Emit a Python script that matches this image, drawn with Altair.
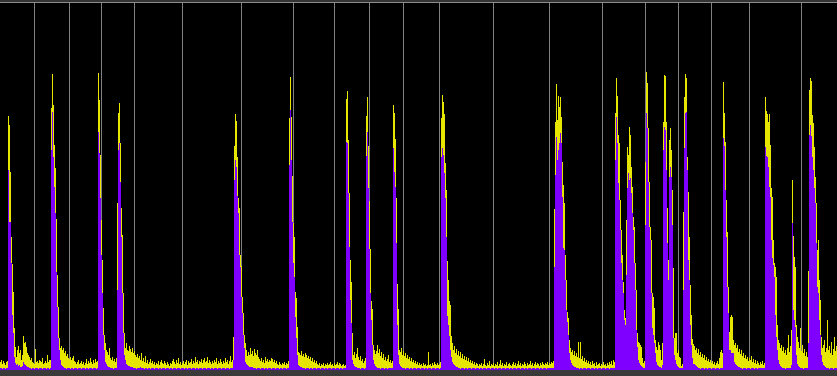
import altair as alt
import pandas as pd

# per-pixel-column heights (px above baseline)
yellow = [
    8, 10, 6, 9, 7, 5, 8, 9, 254, 245,
    198, 133, 106, 78, 42, 23, 13, 20, 24, 17,
    20, 10, 15, 34, 27, 28, 23, 17, 15, 13,
    10, 12, 8, 7, 6, 21, 8, 9, 7, 10,
    9, 8, 12, 6, 7, 9, 7, 15, 8, 10,
    10, 262, 296, 265, 225, 202, 151, 95, 63, 32,
    22, 24, 20, 22, 17, 19, 14, 16, 12, 11,
    13, 10, 12, 14, 9, 8, 6, 8, 10, 6,
    7, 9, 6, 8, 5, 7, 11, 6, 9, 7,
    12, 8, 6, 10, 7, 11, 8, 9, 297, 270,
    215, 150, 110, 62, 35, 27, 20, 18, 15, 22,
    12, 10, 13, 9, 11, 8, 12, 167, 257, 267,
    227, 162, 135, 77, 37, 22, 27, 20, 19, 24,
    21, 18, 22, 17, 19, 15, 13, 16, 12, 14,
    10, 17, 9, 12, 8, 14, 7, 10, 6, 8,
    11, 7, 9, 6, 8, 5, 7, 6, 9, 5,
    8, 10, 7, 6, 9, 7, 5, 8, 6, 4,
    7, 6, 9, 11, 8, 6, 10, 7, 12, 6,
    8, 5, 7, 9, 6, 8, 10, 5, 9, 7,
    8, 11, 6, 9, 7, 13, 8, 10, 6, 9,
    8, 11, 7, 10, 12, 8, 9, 13, 7, 10,
    8, 6, 9, 7, 10, 8, 12, 6, 9, 7,
    11, 8, 6, 9, 7, 12, 8, 10, 6, 9,
    14, 8, 10, 33, 224, 256, 249, 213, 172, 162,
    115, 104, 73, 57, 35, 27, 20, 14, 18, 15,
    22, 16, 19, 14, 21, 17, 15, 20, 13, 11,
    9, 12, 8, 10, 7, 13, 9, 11, 8, 10,
    9, 12, 11, 8, 10, 7, 9, 6, 5, 8,
    6, 5, 7, 6, 8, 5, 7, 6, 9, 252,
    293, 253, 194, 147, 133, 78, 72, 43, 18, 17,
    15, 19, 14, 16, 13, 17, 15, 12, 14, 11,
    13, 9, 12, 8, 10, 7, 9, 6, 5, 7,
    4, 6, 5, 7, 4, 6, 5, 7, 5, 6,
    8, 5, 6, 4, 7, 5, 6, 8, 5, 7,
    6, 4, 5, 6, 4, 5, 271, 279, 230, 177,
    110, 88, 37, 15, 18, 12, 16, 22, 13, 10,
    14, 9, 11, 7, 9, 12, 254, 273, 224, 169,
    121, 69, 61, 25, 20, 16, 19, 25, 17, 21,
    14, 18, 12, 16, 10, 13, 9, 11, 15, 8,
    10, 7, 9, 265, 257, 231, 172, 86, 61, 20,
    18, 22, 15, 19, 14, 17, 12, 15, 11, 13,
    9, 12, 8, 10, 7, 9, 6, 8, 5, 7,
    5, 6, 4, 7, 5, 6, 4, 5, 18, 5,
    6, 4, 7, 5, 8, 6, 5, 7, 5, 6,
    8, 252, 275, 268, 256, 207, 180, 109, 90, 69,
    65, 34, 27, 20, 24, 17, 21, 15, 19, 14,
    18, 12, 16, 11, 14, 10, 13, 9, 12, 8,
    10, 7, 9, 6, 8, 5, 7, 6, 4, 6,
    5, 7, 4, 6, 11, 5, 4, 7, 5, 9,
    4, 6, 5, 7, 4, 6, 5, 8, 4, 6,
    10, 5, 7, 4, 6, 5, 8, 4, 6, 7,
    5, 4, 6, 8, 5, 7, 4, 6, 9, 5,
    7, 4, 6, 5, 8, 6, 4, 7, 5, 6,
    9, 5, 7, 4, 6, 8, 5, 7, 6, 4,
    7, 5, 8, 6, 5, 7, 6, 8, 5, 7,
    6, 8, 7, 9, 161, 248, 286, 250, 274, 263,
    273, 253, 208, 185, 167, 115, 90, 58, 52, 30,
    22, 18, 20, 15, 19, 14, 17, 13, 28, 12,
    28, 11, 14, 9, 12, 8, 10, 7, 9, 6,
    8, 5, 9, 6, 7, 4, 8, 5, 6, 7,
    4, 6, 5, 8, 5, 6, 4, 7, 5, 8,
    6, 9, 5, 10, 8, 257, 292, 274, 235, 227,
    170, 140, 115, 88, 60, 52, 150, 223, 215, 243,
    235, 203, 183, 153, 143, 107, 80, 37, 28, 27,
    25, 23, 12, 7, 9, 208, 298, 287, 242, 188,
    143, 130, 77, 73, 62, 30, 23, 20, 28, 25,
    20, 10, 27, 248, 295, 294, 248, 162, 110, 230,
    242, 220, 180, 102, 32, 37, 37, 17, 20, 13,
    12, 4, 6, 158, 273, 296, 292, 213, 178, 133,
    85, 55, 31, 26, 24, 20, 22, 17, 21, 15,
    18, 13, 16, 12, 15, 10, 13, 9, 11, 8,
    10, 7, 9, 6, 8, 5, 7, 9, 6, 12,
    18, 20, 17, 288, 257, 228, 170, 138, 83, 38,
    53, 55, 53, 30, 25, 27, 22, 25, 18, 21,
    16, 20, 14, 17, 12, 15, 11, 13, 9, 12,
    10, 14, 8, 11, 7, 10, 6, 9, 7, 5,
    8, 6, 9, 5, 7, 273, 259, 256, 248, 256,
    225, 182, 173, 130, 107, 103, 93, 45, 30, 27,
    22, 25, 19, 23, 17, 20, 15, 22, 35, 18,
    24, 40, 190, 134, 113, 103, 45, 33, 28, 22,
    42, 19, 25, 17, 21, 14, 18, 13, 99, 280,
    292, 289, 255, 247, 223, 193, 167, 120, 130, 90,
    70, 33, 22, 25, 30, 18, 22, 50, 20, 24,
    17, 28, 15, 21, 33, 19, 24,
]

purple = [
    2, 2, 1, 2, 2, 1, 2, 2, 200, 148,
    148, 107, 55, 37, 13, 7, 5, 6, 4, 5,
    3, 3, 4, 8, 6, 5, 4, 3, 3, 2,
    2, 1, 2, 2, 1, 2, 2, 2, 1, 2,
    2, 2, 1, 2, 2, 2, 1, 2, 2, 1,
    2, 220, 258, 213, 183, 157, 98, 63, 32, 20,
    10, 5, 4, 3, 2, 2, 1, 2, 2, 2,
    1, 2, 2, 1, 2, 2, 2, 1, 2, 2,
    2, 1, 2, 2, 2, 1, 2, 2, 1, 2,
    2, 2, 1, 2, 2, 2, 1, 2, 238, 217,
    172, 115, 77, 35, 20, 8, 6, 4, 3, 3,
    2, 2, 2, 1, 2, 2, 2, 80, 220, 227,
    188, 133, 77, 37, 15, 10, 6, 5, 4, 4,
    3, 3, 3, 2, 2, 2, 1, 2, 2, 2,
    3, 2, 2, 2, 1, 2, 2, 1, 2, 2,
    1, 2, 2, 2, 1, 2, 2, 2, 1, 2,
    2, 1, 2, 2, 2, 1, 2, 2, 2, 1,
    2, 2, 1, 2, 2, 2, 1, 2, 2, 2,
    1, 2, 2, 2, 1, 2, 2, 1, 2, 2,
    2, 1, 2, 2, 2, 1, 2, 2, 1, 2,
    2, 2, 1, 2, 2, 2, 1, 2, 2, 2,
    1, 2, 2, 1, 2, 2, 2, 1, 2, 2,
    2, 1, 2, 2, 2, 1, 2, 2, 2, 1,
    2, 2, 2, 10, 190, 210, 203, 174, 157, 115,
    103, 73, 57, 35, 22, 8, 6, 5, 4, 3,
    3, 3, 3, 2, 2, 2, 1, 2, 2, 2,
    1, 2, 2, 2, 1, 2, 2, 1, 2, 2,
    2, 1, 2, 2, 2, 1, 2, 2, 2, 1,
    2, 2, 1, 2, 2, 2, 1, 2, 2, 205,
    260, 210, 148, 107, 93, 53, 32, 15, 5, 4,
    3, 3, 2, 2, 2, 1, 2, 2, 2, 1,
    2, 2, 1, 2, 2, 2, 1, 2, 2, 2,
    1, 2, 2, 2, 1, 2, 2, 1, 2, 2,
    2, 1, 2, 2, 2, 1, 2, 2, 2, 1,
    2, 2, 1, 2, 2, 2, 228, 227, 177, 123,
    70, 47, 10, 6, 4, 3, 3, 2, 2, 2,
    1, 2, 2, 2, 1, 2, 214, 238, 182, 121,
    77, 50, 25, 10, 6, 4, 3, 2, 2, 2,
    1, 2, 2, 2, 1, 2, 2, 1, 2, 2,
    2, 2, 2, 222, 198, 183, 127, 45, 15, 6,
    4, 3, 2, 2, 2, 1, 2, 2, 2, 1,
    2, 2, 1, 2, 2, 2, 1, 2, 2, 2,
    1, 2, 2, 2, 1, 2, 2, 1, 2, 2,
    2, 1, 2, 2, 2, 1, 2, 2, 2, 1,
    2, 213, 222, 215, 197, 172, 133, 54, 45, 34,
    20, 13, 8, 6, 5, 4, 3, 3, 2, 2,
    1, 2, 2, 2, 1, 2, 2, 1, 2, 2,
    2, 1, 2, 2, 2, 1, 2, 2, 2, 1,
    2, 2, 1, 2, 2, 2, 1, 2, 2, 2,
    1, 2, 2, 2, 1, 2, 2, 1, 2, 2,
    2, 1, 2, 2, 2, 1, 2, 2, 2, 1,
    2, 2, 1, 2, 2, 2, 1, 2, 2, 2,
    1, 2, 2, 2, 1, 2, 2, 1, 2, 2,
    2, 1, 2, 2, 2, 1, 2, 2, 2, 1,
    2, 2, 1, 2, 2, 2, 1, 2, 2, 2,
    2, 2, 2, 2, 103, 195, 233, 210, 220, 227,
    237, 227, 173, 122, 120, 90, 60, 48, 35, 17,
    10, 7, 5, 4, 3, 3, 2, 2, 2, 1,
    2, 2, 1, 2, 2, 2, 1, 2, 2, 2,
    1, 2, 2, 2, 1, 2, 2, 1, 2, 2,
    2, 1, 2, 2, 2, 1, 2, 2, 2, 1,
    2, 2, 2, 2, 2, 210, 253, 227, 187, 170,
    140, 107, 90, 77, 50, 45, 95, 182, 197, 190,
    192, 177, 157, 140, 107, 80, 40, 23, 10, 7,
    5, 4, 3, 2, 2, 145, 257, 242, 188, 143,
    130, 77, 42, 35, 27, 17, 8, 5, 4, 3,
    3, 2, 5, 220, 243, 240, 200, 127, 90, 193,
    203, 193, 145, 32, 15, 10, 6, 4, 3, 2,
    2, 2, 2, 80, 222, 257, 258, 200, 110, 90,
    45, 25, 12, 6, 6, 5, 4, 3, 2, 2,
    1, 2, 2, 2, 1, 2, 2, 1, 2, 2,
    2, 1, 2, 2, 2, 1, 2, 2, 2, 1,
    2, 2, 2, 232, 224, 180, 133, 83, 57, 20,
    20, 17, 17, 17, 8, 6, 5, 4, 3, 3,
    2, 2, 1, 2, 2, 2, 1, 2, 2, 2,
    1, 2, 2, 2, 1, 2, 2, 1, 2, 2,
    2, 2, 2, 2, 2, 223, 214, 213, 203, 183,
    173, 130, 112, 105, 93, 55, 33, 20, 10, 6,
    4, 3, 2, 2, 2, 1, 2, 2, 2, 2,
    2, 5, 147, 60, 50, 43, 15, 6, 4, 3,
    2, 2, 2, 1, 2, 2, 2, 2, 27, 235,
    245, 234, 213, 200, 182, 167, 127, 83, 77, 50,
    35, 15, 8, 5, 4, 3, 2, 2, 2, 1,
    2, 2, 2, 1, 2, 2, 2,
]

markers = [34, 69, 101, 134, 182, 241, 293, 334, 369, 403, 439, 493,
           549, 602, 645, 678, 711, 749, 801]

n = min(len(yellow), len(purple))
df = pd.DataFrame({"x": list(range(n)), "yellow": yellow[:n], "purple": purple[:n]})
mk = pd.DataFrame({"m": markers})
one = pd.DataFrame({"a": [0]})

xs = alt.Scale(domain=[0, 837], range=[0, 837], nice=False, zero=False)
ys = alt.Scale(domain=[0, 370], range=[370, 0], nice=False, zero=False)

base = alt.Chart(df).transform_calculate(x2="datum.x + 1")

rules = alt.Chart(mk).mark_rule(color="#808080", strokeWidth=1, xOffset=0.5).encode(
    x=alt.X("m:Q", scale=xs, axis=None), y=alt.value(3), y2=alt.value(370)
)
ybars = base.mark_rect(color="#e6e600").encode(
    x=alt.X("x:Q", scale=xs, axis=None), x2="x2:Q",
    y=alt.Y("yellow:Q", scale=ys, axis=None), y2=alt.datum(0),
)
pbars = base.mark_rect(color="#8000ff").encode(
    x=alt.X("x:Q", scale=xs, axis=None), x2="x2:Q",
    y=alt.Y("purple:Q", scale=ys, axis=None), y2=alt.datum(0),
)
topband = alt.Chart(one).mark_rect(color="#333333").encode(
    x=alt.value(0), x2=alt.value(837), y=alt.value(0), y2=alt.value(2)
)
topline = alt.Chart(one).mark_rect(color="#8c8c8c").encode(
    x=alt.value(0), x2=alt.value(837), y=alt.value(2), y2=alt.value(3)
)
bottom = alt.Chart(one).mark_rect(color="#3a3a3a").encode(
    x=alt.value(0), x2=alt.value(837), y=alt.value(370), y2=alt.value(376)
)

chart = (
    alt.layer(rules, ybars, pbars, topband, topline, bottom)
    .properties(width=837, height=376, background="#000000", padding=0,
                autosize=alt.AutoSizeParams(type="none"))
    .configure_view(stroke=None, fill="#000000")
)

chart.save("out.html", embed_options={"renderer": "svg", "actions": False})
